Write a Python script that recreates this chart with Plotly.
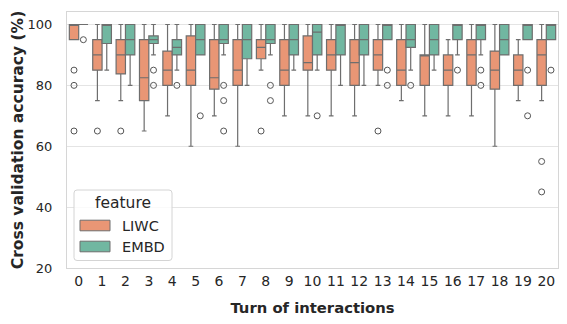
import plotly.graph_objects as go

# ---- data: per-turn box statistics (accuracy, %) ----
turns = list(range(21))

liwc_q1 = [95, 85, 83.75, 75, 80, 80, 78.75, 80, 88.75, 80, 85, 85, 80, 85, 80, 80, 80, 80, 78.75, 80, 80]
liwc_med = [100, 90, 90, 82.5, 85, 85, 82.5, 85, 92.5, 85, 87.5, 90, 87.5, 90, 85, 90, 85, 90, 85, 85, 90]
liwc_q3 = [100, 95, 95, 95, 91.25, 96.25, 95, 95, 95, 95, 96.25, 95, 95, 95, 95, 90, 90, 95, 91.25, 90, 95]
liwc_lo = [95, 75, 75, 65, 70, 60, 70, 60, 85, 70, 70, 70, 70, 80, 75, 70, 70, 70, 60, 75, 75]
liwc_hi = [100, 100, 100, 100, 100, 100, 100, 100, 100, 100, 100, 100, 100, 100, 100, 100, 95, 100, 100, 95, 100]
liwc_out = [[85, 80, 65], [65], [65], [], [], [], [], [], [65], [], [], [], [], [65], [], [], [], [], [], [], [55, 45]]

embd_q1 = [100, 93.75, 90, 93.75, 90, 90, 93.75, 88.75, 93.75, 90, 90, 90, 90, 95, 92.5, 90, 95, 95, 90, 95, 95]
embd_med = [100, 100, 95, 95, 92.5, 95, 95, 95, 95, 95, 97.5, 100, 95, 100, 95, 95, 100, 100, 95, 100, 100]
embd_q3 = [100, 100, 100, 96.25, 95, 100, 100, 100, 100, 100, 100, 100, 100, 100, 100, 100, 100, 100, 100, 100, 100]
embd_lo = [100, 85, 80, 90, 85, 90, 90, 80, 90, 85, 85, 80, 80, 95, 85, 85, 90, 90, 90, 95, 95]
embd_hi = [100] * 21
embd_out = [[95], [], [], [85, 80], [80], [70], [80, 75, 65], [], [80, 75], [], [70], [], [], [85, 80], [80], [], [85], [85, 80], [], [85, 70], [85]]

series = [
    ("LIWC", liwc_q1, liwc_med, liwc_q3, liwc_lo, liwc_hi, liwc_out, "#e99675"),
    ("EMBD", embd_q1, embd_med, embd_q3, embd_lo, embd_hi, embd_out, "#71b7a1"),
]

LINE = "#6e6e6e"
TEXT = "#262626"
FONT = "DejaVu Sans"

fig = go.Figure()
for name, q1, med, q3, lo, hi, out, col in series:
    fig.add_trace(go.Box(
        name=name, x=turns, q1=q1, median=med, q3=q3,
        lowerfence=lo, upperfence=hi, y=out,
        boxpoints="outliers", jitter=0, pointpos=0,
        fillcolor=col, line=dict(color=LINE, width=1.2),
        whiskerwidth=0.5,
        marker=dict(symbol="circle-open", size=6, color="#555555",
                    line=dict(width=1)),
        showlegend=False,
    ))

# plot-area geometry (pixels) used to place the hand-drawn legend
W, H = 567, 324
ML, MR, MT, MB = 67, 9, 12, 56
PW, PH = W - ML - MR, H - MT - MB


def px(x):
    return (x - ML) / PW


def py(y):
    return (H - MB - y) / PH


def rounded_rect(x0, y0, x1, y1, r):
    return (f"M{px(x0 + r)},{py(y0)} L{px(x1 - r)},{py(y0)} Q{px(x1)},{py(y0)} {px(x1)},{py(y0 + r)} "
            f"L{px(x1)},{py(y1 - r)} Q{px(x1)},{py(y1)} {px(x1 - r)},{py(y1)} "
            f"L{px(x0 + r)},{py(y1)} Q{px(x0)},{py(y1)} {px(x0)},{py(y1 - r)} "
            f"L{px(x0)},{py(y0 + r)} Q{px(x0)},{py(y0)} {px(x0 + r)},{py(y0)} Z")


shapes = [dict(type="path", xref="paper", yref="paper",
               path=rounded_rect(74, 190, 172, 260.5, 3),
               fillcolor="rgba(255,255,255,0.8)", line=dict(color="#d4d4d4", width=1))]
annotations = [dict(text="feature", xref="paper", yref="paper", x=px(122.7), y=py(202.5),
                    xanchor="center", yanchor="middle", showarrow=False,
                    font=dict(family=FONT, size=15.5, color=TEXT))]
for i, (name, *_rest, col) in enumerate(series):
    yc = 225.5 + i * 21
    shapes.append(dict(type="rect", xref="paper", yref="paper",
                       x0=px(80), x1=px(110), y0=py(yc - 5.3), y1=py(yc + 5.3),
                       fillcolor=col, line=dict(color=LINE, width=1)))
    annotations.append(dict(text=name, xref="paper", yref="paper", x=px(120), y=py(yc),
                            xanchor="left", yanchor="middle", showarrow=False,
                            font=dict(family=FONT, size=14.5, color=TEXT)))

fig.update_layout(
    width=W, height=H,
    margin=dict(l=ML, r=MR, t=MT, b=MB),
    paper_bgcolor="white", plot_bgcolor="white",
    boxmode="group", boxgap=0.2, boxgroupgap=0,
    showlegend=False,
    font=dict(family=FONT, color=TEXT, size=13),
    shapes=shapes, annotations=annotations,
    xaxis=dict(
        range=[-0.5, 20.5], tickvals=turns, ticktext=[str(t) for t in turns],
        showgrid=False, zeroline=False, showline=True, mirror=True,
        linecolor="#d6d6d6", linewidth=1, ticks="", ticklabelstandoff=0,
        tickfont=dict(size=14, color=TEXT),
        title=dict(text="Turn of interactions", standoff=14,
                   font=dict(family=FONT, size=14.8, color=TEXT, weight="bold")),
    ),
    yaxis=dict(
        range=[20, 104.1], tickvals=[20, 40, 60, 80, 100],
        showgrid=True, gridcolor="#e4e4e4", gridwidth=1, zeroline=False,
        showline=True, mirror=True, linecolor="#d6d6d6", linewidth=1,
        ticks="", ticklabelstandoff=11,
        tickfont=dict(size=13, color=TEXT),
        title=dict(text="Cross validation accuracy (%)", standoff=0,
                   font=dict(family=FONT, size=15.5, color=TEXT, weight="bold")),
    ),
)

fig.write_html("out.html")
